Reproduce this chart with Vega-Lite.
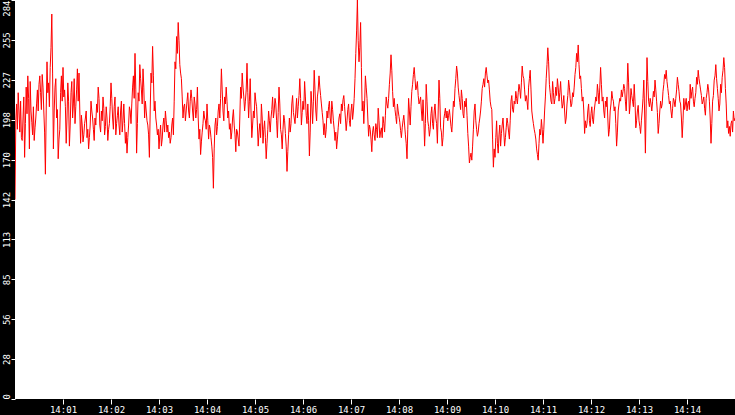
{
  "$schema": "https://vega.github.io/schema/vega-lite/v6.json",
  "width": 720,
  "height": 399,
  "autosize": {"type": "none"},
  "padding": {"left": 15, "top": 0, "right": 0, "bottom": 16},
  "background": "black",
  "view": {"fill": "white", "stroke": null},
  "data": {
    "format": {"parse": {"t": "date:'%H:%M:%S'"}},
    "values": [
      {"t":"14:00:00","v":142},{"t":"14:00:01","v":198},{"t":"14:00:02","v":210},{"t":"14:00:03","v":192},{"t":"14:00:04","v":218},{"t":"14:00:05","v":205},{"t":"14:00:06","v":190},{"t":"14:00:07","v":212},{"t":"14:00:08","v":186},{"t":"14:00:09","v":184},
      {"t":"14:00:10","v":200},{"t":"14:00:11","v":215},{"t":"14:00:12","v":172},{"t":"14:00:13","v":196},{"t":"14:00:14","v":222},{"t":"14:00:15","v":203},{"t":"14:00:16","v":230},{"t":"14:00:17","v":214},{"t":"14:00:18","v":178},{"t":"14:00:19","v":226},
      {"t":"14:00:20","v":205},{"t":"14:00:21","v":197},{"t":"14:00:22","v":188},{"t":"14:00:23","v":208},{"t":"14:00:24","v":184},{"t":"14:00:25","v":193},{"t":"14:00:26","v":200},{"t":"14:00:27","v":210},{"t":"14:00:28","v":220},{"t":"14:00:29","v":205},
      {"t":"14:00:30","v":224},{"t":"14:00:31","v":230},{"t":"14:00:32","v":218},{"t":"14:00:33","v":206},{"t":"14:00:34","v":231},{"t":"14:00:35","v":222},{"t":"14:00:36","v":205},{"t":"14:00:37","v":190},{"t":"14:00:38","v":160},{"t":"14:00:39","v":205},
      {"t":"14:00:40","v":240},{"t":"14:00:41","v":218},{"t":"14:00:42","v":225},{"t":"14:00:43","v":208},{"t":"14:00:44","v":236},{"t":"14:00:45","v":250},{"t":"14:00:46","v":274},{"t":"14:00:47","v":232},{"t":"14:00:48","v":178},{"t":"14:00:49","v":205},
      {"t":"14:00:50","v":222},{"t":"14:00:51","v":228},{"t":"14:00:52","v":200},{"t":"14:00:53","v":206},{"t":"14:00:54","v":171},{"t":"14:00:55","v":185},{"t":"14:00:56","v":192},{"t":"14:00:57","v":218},{"t":"14:00:58","v":230},{"t":"14:00:59","v":212},
      {"t":"14:01:00","v":236},{"t":"14:01:01","v":215},{"t":"14:01:02","v":220},{"t":"14:01:03","v":208},{"t":"14:01:04","v":182},{"t":"14:01:05","v":200},{"t":"14:01:06","v":225},{"t":"14:01:07","v":212},{"t":"14:01:08","v":180},{"t":"14:01:09","v":195},
      {"t":"14:01:10","v":218},{"t":"14:01:11","v":226},{"t":"14:01:12","v":200},{"t":"14:01:13","v":210},{"t":"14:01:14","v":228},{"t":"14:01:15","v":196},{"t":"14:01:16","v":208},{"t":"14:01:17","v":220},{"t":"14:01:18","v":235},{"t":"14:01:19","v":212},
      {"t":"14:01:20","v":232},{"t":"14:01:21","v":205},{"t":"14:01:22","v":182},{"t":"14:01:23","v":202},{"t":"14:01:24","v":195},{"t":"14:01:25","v":183},{"t":"14:01:26","v":188},{"t":"14:01:27","v":196},{"t":"14:01:28","v":200},{"t":"14:01:29","v":205},
      {"t":"14:01:30","v":186},{"t":"14:01:31","v":192},{"t":"14:01:32","v":178},{"t":"14:01:33","v":186},{"t":"14:01:34","v":195},{"t":"14:01:35","v":212},{"t":"14:01:36","v":205},{"t":"14:01:37","v":200},{"t":"14:01:38","v":192},{"t":"14:01:39","v":184},
      {"t":"14:01:40","v":200},{"t":"14:01:41","v":195},{"t":"14:01:42","v":210},{"t":"14:01:43","v":204},{"t":"14:01:44","v":222},{"t":"14:01:45","v":214},{"t":"14:01:46","v":195},{"t":"14:01:47","v":190},{"t":"14:01:48","v":205},{"t":"14:01:49","v":198},
      {"t":"14:01:50","v":215},{"t":"14:01:51","v":207},{"t":"14:01:52","v":188},{"t":"14:01:53","v":194},{"t":"14:01:54","v":208},{"t":"14:01:55","v":200},{"t":"14:01:56","v":184},{"t":"14:01:57","v":192},{"t":"14:01:58","v":196},{"t":"14:01:59","v":208},
      {"t":"14:02:00","v":225},{"t":"14:02:01","v":214},{"t":"14:02:02","v":200},{"t":"14:02:03","v":192},{"t":"14:02:04","v":208},{"t":"14:02:05","v":215},{"t":"14:02:06","v":188},{"t":"14:02:07","v":196},{"t":"14:02:08","v":202},{"t":"14:02:09","v":208},
      {"t":"14:02:10","v":195},{"t":"14:02:11","v":188},{"t":"14:02:12","v":205},{"t":"14:02:13","v":212},{"t":"14:02:14","v":190},{"t":"14:02:15","v":198},{"t":"14:02:16","v":210},{"t":"14:02:17","v":196},{"t":"14:02:18","v":182},{"t":"14:02:19","v":190},
      {"t":"14:02:20","v":175},{"t":"14:02:21","v":186},{"t":"14:02:22","v":195},{"t":"14:02:23","v":208},{"t":"14:02:24","v":205},{"t":"14:02:25","v":196},{"t":"14:02:26","v":210},{"t":"14:02:27","v":222},{"t":"14:02:28","v":230},{"t":"14:02:29","v":214},
      {"t":"14:02:30","v":246},{"t":"14:02:31","v":220},{"t":"14:02:32","v":175},{"t":"14:02:33","v":196},{"t":"14:02:34","v":218},{"t":"14:02:35","v":212},{"t":"14:02:36","v":238},{"t":"14:02:37","v":228},{"t":"14:02:38","v":220},{"t":"14:02:39","v":210},
      {"t":"14:02:40","v":235},{"t":"14:02:41","v":222},{"t":"14:02:42","v":200},{"t":"14:02:43","v":212},{"t":"14:02:44","v":205},{"t":"14:02:45","v":198},{"t":"14:02:46","v":195},{"t":"14:02:47","v":188},{"t":"14:02:48","v":172},{"t":"14:02:49","v":205},
      {"t":"14:02:50","v":232},{"t":"14:02:51","v":225},{"t":"14:02:52","v":251},{"t":"14:02:53","v":230},{"t":"14:02:54","v":205},{"t":"14:02:55","v":212},{"t":"14:02:56","v":200},{"t":"14:02:57","v":195},{"t":"14:02:58","v":188},{"t":"14:02:59","v":192},
      {"t":"14:03:00","v":178},{"t":"14:03:01","v":188},{"t":"14:03:02","v":195},{"t":"14:03:03","v":180},{"t":"14:03:04","v":185},{"t":"14:03:05","v":195},{"t":"14:03:06","v":200},{"t":"14:03:07","v":190},{"t":"14:03:08","v":205},{"t":"14:03:09","v":198},
      {"t":"14:03:10","v":190},{"t":"14:03:11","v":195},{"t":"14:03:12","v":186},{"t":"14:03:13","v":190},{"t":"14:03:14","v":182},{"t":"14:03:15","v":186},{"t":"14:03:16","v":195},{"t":"14:03:17","v":200},{"t":"14:03:18","v":188},{"t":"14:03:19","v":212},
      {"t":"14:03:20","v":240},{"t":"14:03:21","v":235},{"t":"14:03:22","v":258},{"t":"14:03:23","v":246},{"t":"14:03:24","v":268},{"t":"14:03:25","v":255},{"t":"14:03:26","v":238},{"t":"14:03:27","v":232},{"t":"14:03:28","v":228},{"t":"14:03:29","v":215},
      {"t":"14:03:30","v":200},{"t":"14:03:31","v":208},{"t":"14:03:32","v":210},{"t":"14:03:33","v":198},{"t":"14:03:34","v":205},{"t":"14:03:35","v":212},{"t":"14:03:36","v":218},{"t":"14:03:37","v":205},{"t":"14:03:38","v":200},{"t":"14:03:39","v":212},
      {"t":"14:03:40","v":220},{"t":"14:03:41","v":214},{"t":"14:03:42","v":205},{"t":"14:03:43","v":198},{"t":"14:03:44","v":215},{"t":"14:03:45","v":210},{"t":"14:03:46","v":200},{"t":"14:03:47","v":206},{"t":"14:03:48","v":222},{"t":"14:03:49","v":200},
      {"t":"14:03:50","v":185},{"t":"14:03:51","v":192},{"t":"14:03:52","v":174},{"t":"14:03:53","v":183},{"t":"14:03:54","v":190},{"t":"14:03:55","v":196},{"t":"14:03:56","v":205},{"t":"14:03:57","v":200},{"t":"14:03:58","v":198},{"t":"14:03:59","v":192},
      {"t":"14:04:00","v":210},{"t":"14:04:01","v":198},{"t":"14:04:02","v":185},{"t":"14:04:03","v":195},{"t":"14:04:04","v":192},{"t":"14:04:05","v":186},{"t":"14:04:06","v":180},{"t":"14:04:07","v":172},{"t":"14:04:08","v":150},{"t":"14:04:09","v":178},
      {"t":"14:04:10","v":195},{"t":"14:04:11","v":200},{"t":"14:04:12","v":188},{"t":"14:04:13","v":194},{"t":"14:04:14","v":205},{"t":"14:04:15","v":210},{"t":"14:04:16","v":200},{"t":"14:04:17","v":214},{"t":"14:04:18","v":235},{"t":"14:04:19","v":220},
      {"t":"14:04:20","v":205},{"t":"14:04:21","v":198},{"t":"14:04:22","v":215},{"t":"14:04:23","v":210},{"t":"14:04:24","v":222},{"t":"14:04:25","v":212},{"t":"14:04:26","v":200},{"t":"14:04:27","v":205},{"t":"14:04:28","v":192},{"t":"14:04:29","v":196},
      {"t":"14:04:30","v":185},{"t":"14:04:31","v":190},{"t":"14:04:32","v":200},{"t":"14:04:33","v":206},{"t":"14:04:34","v":195},{"t":"14:04:35","v":188},{"t":"14:04:36","v":176},{"t":"14:04:37","v":192},{"t":"14:04:38","v":190},{"t":"14:04:39","v":185},
      {"t":"14:04:40","v":180},{"t":"14:04:41","v":200},{"t":"14:04:42","v":222},{"t":"14:04:43","v":214},{"t":"14:04:44","v":232},{"t":"14:04:45","v":222},{"t":"14:04:46","v":215},{"t":"14:04:47","v":205},{"t":"14:04:48","v":212},{"t":"14:04:49","v":220},
      {"t":"14:04:50","v":239},{"t":"14:04:51","v":218},{"t":"14:04:52","v":200},{"t":"14:04:53","v":212},{"t":"14:04:54","v":228},{"t":"14:04:55","v":205},{"t":"14:04:56","v":186},{"t":"14:04:57","v":195},{"t":"14:04:58","v":205},{"t":"14:04:59","v":200},
      {"t":"14:05:00","v":218},{"t":"14:05:01","v":212},{"t":"14:05:02","v":208},{"t":"14:05:03","v":195},{"t":"14:05:04","v":180},{"t":"14:05:05","v":190},{"t":"14:05:06","v":196},{"t":"14:05:07","v":186},{"t":"14:05:08","v":210},{"t":"14:05:09","v":200},
      {"t":"14:05:10","v":182},{"t":"14:05:11","v":192},{"t":"14:05:12","v":198},{"t":"14:05:13","v":186},{"t":"14:05:14","v":171},{"t":"14:05:15","v":182},{"t":"14:05:16","v":192},{"t":"14:05:17","v":205},{"t":"14:05:18","v":198},{"t":"14:05:19","v":190},
      {"t":"14:05:20","v":200},{"t":"14:05:21","v":206},{"t":"14:05:22","v":215},{"t":"14:05:23","v":200},{"t":"14:05:24","v":205},{"t":"14:05:25","v":214},{"t":"14:05:26","v":210},{"t":"14:05:27","v":198},{"t":"14:05:28","v":186},{"t":"14:05:29","v":204},
      {"t":"14:05:30","v":222},{"t":"14:05:31","v":210},{"t":"14:05:32","v":192},{"t":"14:05:33","v":188},{"t":"14:05:34","v":178},{"t":"14:05:35","v":192},{"t":"14:05:36","v":202},{"t":"14:05:37","v":198},{"t":"14:05:38","v":189},{"t":"14:05:39","v":180},
      {"t":"14:05:40","v":162},{"t":"14:05:41","v":176},{"t":"14:05:42","v":188},{"t":"14:05:43","v":200},{"t":"14:05:44","v":190},{"t":"14:05:45","v":196},{"t":"14:05:46","v":210},{"t":"14:05:47","v":216},{"t":"14:05:48","v":204},{"t":"14:05:49","v":200},
      {"t":"14:05:50","v":196},{"t":"14:05:51","v":205},{"t":"14:05:52","v":214},{"t":"14:05:53","v":200},{"t":"14:05:54","v":208},{"t":"14:05:55","v":216},{"t":"14:05:56","v":228},{"t":"14:05:57","v":214},{"t":"14:05:58","v":195},{"t":"14:05:59","v":204},
      {"t":"14:06:00","v":212},{"t":"14:06:01","v":206},{"t":"14:06:02","v":226},{"t":"14:06:03","v":215},{"t":"14:06:04","v":202},{"t":"14:06:05","v":196},{"t":"14:06:06","v":210},{"t":"14:06:07","v":198},{"t":"14:06:08","v":173},{"t":"14:06:09","v":190},
      {"t":"14:06:10","v":219},{"t":"14:06:11","v":210},{"t":"14:06:12","v":196},{"t":"14:06:13","v":212},{"t":"14:06:14","v":234},{"t":"14:06:15","v":220},{"t":"14:06:16","v":205},{"t":"14:06:17","v":198},{"t":"14:06:18","v":215},{"t":"14:06:19","v":220},
      {"t":"14:06:20","v":230},{"t":"14:06:21","v":222},{"t":"14:06:22","v":216},{"t":"14:06:23","v":210},{"t":"14:06:24","v":204},{"t":"14:06:25","v":198},{"t":"14:06:26","v":188},{"t":"14:06:27","v":196},{"t":"14:06:28","v":186},{"t":"14:06:29","v":192},
      {"t":"14:06:30","v":205},{"t":"14:06:31","v":200},{"t":"14:06:32","v":208},{"t":"14:06:33","v":212},{"t":"14:06:34","v":200},{"t":"14:06:35","v":196},{"t":"14:06:36","v":212},{"t":"14:06:37","v":206},{"t":"14:06:38","v":198},{"t":"14:06:39","v":192},
      {"t":"14:06:40","v":184},{"t":"14:06:41","v":190},{"t":"14:06:42","v":178},{"t":"14:06:43","v":185},{"t":"14:06:44","v":193},{"t":"14:06:45","v":200},{"t":"14:06:46","v":203},{"t":"14:06:47","v":196},{"t":"14:06:48","v":210},{"t":"14:06:49","v":205},
      {"t":"14:06:50","v":213},{"t":"14:06:51","v":216},{"t":"14:06:52","v":208},{"t":"14:06:53","v":200},{"t":"14:06:54","v":191},{"t":"14:06:55","v":198},{"t":"14:06:56","v":206},{"t":"14:06:57","v":210},{"t":"14:06:58","v":198},{"t":"14:06:59","v":194},
      {"t":"14:07:00","v":205},{"t":"14:07:01","v":210},{"t":"14:07:02","v":199},{"t":"14:07:03","v":205},{"t":"14:07:04","v":214},{"t":"14:07:05","v":228},{"t":"14:07:06","v":246},{"t":"14:07:07","v":262},{"t":"14:07:08","v":284},{"t":"14:07:09","v":255},
      {"t":"14:07:10","v":240},{"t":"14:07:11","v":250},{"t":"14:07:12","v":268},{"t":"14:07:13","v":236},{"t":"14:07:14","v":205},{"t":"14:07:15","v":212},{"t":"14:07:16","v":196},{"t":"14:07:17","v":210},{"t":"14:07:18","v":230},{"t":"14:07:19","v":222},
      {"t":"14:07:20","v":214},{"t":"14:07:21","v":200},{"t":"14:07:22","v":187},{"t":"14:07:23","v":195},{"t":"14:07:24","v":192},{"t":"14:07:25","v":185},{"t":"14:07:26","v":176},{"t":"14:07:27","v":190},{"t":"14:07:28","v":194},{"t":"14:07:29","v":188},
      {"t":"14:07:30","v":184},{"t":"14:07:31","v":196},{"t":"14:07:32","v":192},{"t":"14:07:33","v":186},{"t":"14:07:34","v":207},{"t":"14:07:35","v":198},{"t":"14:07:36","v":186},{"t":"14:07:37","v":190},{"t":"14:07:38","v":193},{"t":"14:07:39","v":186},
      {"t":"14:07:40","v":201},{"t":"14:07:41","v":196},{"t":"14:07:42","v":190},{"t":"14:07:43","v":202},{"t":"14:07:44","v":215},{"t":"14:07:45","v":210},{"t":"14:07:46","v":207},{"t":"14:07:47","v":214},{"t":"14:07:48","v":224},{"t":"14:07:49","v":232},
      {"t":"14:07:50","v":245},{"t":"14:07:51","v":234},{"t":"14:07:52","v":219},{"t":"14:07:53","v":208},{"t":"14:07:54","v":214},{"t":"14:07:55","v":206},{"t":"14:07:56","v":201},{"t":"14:07:57","v":196},{"t":"14:07:58","v":210},{"t":"14:07:59","v":205},
      {"t":"14:08:00","v":201},{"t":"14:08:01","v":197},{"t":"14:08:02","v":191},{"t":"14:08:03","v":186},{"t":"14:08:04","v":193},{"t":"14:08:05","v":198},{"t":"14:08:06","v":202},{"t":"14:08:07","v":195},{"t":"14:08:08","v":188},{"t":"14:08:09","v":182},
      {"t":"14:08:10","v":171},{"t":"14:08:11","v":192},{"t":"14:08:12","v":214},{"t":"14:08:13","v":205},{"t":"14:08:14","v":195},{"t":"14:08:15","v":208},{"t":"14:08:16","v":219},{"t":"14:08:17","v":224},{"t":"14:08:18","v":231},{"t":"14:08:19","v":236},
      {"t":"14:08:20","v":228},{"t":"14:08:21","v":220},{"t":"14:08:22","v":222},{"t":"14:08:23","v":226},{"t":"14:08:24","v":216},{"t":"14:08:25","v":210},{"t":"14:08:26","v":212},{"t":"14:08:27","v":215},{"t":"14:08:28","v":205},{"t":"14:08:29","v":198},
      {"t":"14:08:30","v":213},{"t":"14:08:31","v":200},{"t":"14:08:32","v":180},{"t":"14:08:33","v":196},{"t":"14:08:34","v":224},{"t":"14:08:35","v":212},{"t":"14:08:36","v":198},{"t":"14:08:37","v":194},{"t":"14:08:38","v":187},{"t":"14:08:39","v":192},
      {"t":"14:08:40","v":203},{"t":"14:08:41","v":208},{"t":"14:08:42","v":196},{"t":"14:08:43","v":192},{"t":"14:08:44","v":205},{"t":"14:08:45","v":210},{"t":"14:08:46","v":200},{"t":"14:08:47","v":196},{"t":"14:08:48","v":182},{"t":"14:08:49","v":205},
      {"t":"14:08:50","v":227},{"t":"14:08:51","v":214},{"t":"14:08:52","v":193},{"t":"14:08:53","v":190},{"t":"14:08:54","v":180},{"t":"14:08:55","v":186},{"t":"14:08:56","v":199},{"t":"14:08:57","v":203},{"t":"14:08:58","v":207},{"t":"14:08:59","v":200},
      {"t":"14:09:00","v":205},{"t":"14:09:01","v":198},{"t":"14:09:02","v":202},{"t":"14:09:03","v":206},{"t":"14:09:04","v":200},{"t":"14:09:05","v":194},{"t":"14:09:06","v":190},{"t":"14:09:07","v":200},{"t":"14:09:08","v":212},{"t":"14:09:09","v":208},
      {"t":"14:09:10","v":221},{"t":"14:09:11","v":228},{"t":"14:09:12","v":237},{"t":"14:09:13","v":232},{"t":"14:09:14","v":222},{"t":"14:09:15","v":216},{"t":"14:09:16","v":211},{"t":"14:09:17","v":206},{"t":"14:09:18","v":220},{"t":"14:09:19","v":214},
      {"t":"14:09:20","v":203},{"t":"14:09:21","v":200},{"t":"14:09:22","v":212},{"t":"14:09:23","v":208},{"t":"14:09:24","v":214},{"t":"14:09:25","v":202},{"t":"14:09:26","v":189},{"t":"14:09:27","v":180},{"t":"14:09:28","v":168},{"t":"14:09:29","v":172},
      {"t":"14:09:30","v":175},{"t":"14:09:31","v":170},{"t":"14:09:32","v":180},{"t":"14:09:33","v":192},{"t":"14:09:34","v":205},{"t":"14:09:35","v":210},{"t":"14:09:36","v":198},{"t":"14:09:37","v":192},{"t":"14:09:38","v":187},{"t":"14:09:39","v":190},
      {"t":"14:09:40","v":196},{"t":"14:09:41","v":200},{"t":"14:09:42","v":205},{"t":"14:09:43","v":212},{"t":"14:09:44","v":221},{"t":"14:09:45","v":224},{"t":"14:09:46","v":228},{"t":"14:09:47","v":222},{"t":"14:09:48","v":232},{"t":"14:09:49","v":236},
      {"t":"14:09:50","v":230},{"t":"14:09:51","v":225},{"t":"14:09:52","v":227},{"t":"14:09:53","v":220},{"t":"14:09:54","v":212},{"t":"14:09:55","v":208},{"t":"14:09:56","v":206},{"t":"14:09:57","v":185},{"t":"14:09:58","v":165},{"t":"14:09:59","v":178},
      {"t":"14:10:00","v":172},{"t":"14:10:01","v":186},{"t":"14:10:02","v":198},{"t":"14:10:03","v":182},{"t":"14:10:04","v":175},{"t":"14:10:05","v":188},{"t":"14:10:06","v":195},{"t":"14:10:07","v":180},{"t":"14:10:08","v":189},{"t":"14:10:09","v":195},
      {"t":"14:10:10","v":200},{"t":"14:10:11","v":190},{"t":"14:10:12","v":180},{"t":"14:10:13","v":186},{"t":"14:10:14","v":193},{"t":"14:10:15","v":200},{"t":"14:10:16","v":196},{"t":"14:10:17","v":190},{"t":"14:10:18","v":185},{"t":"14:10:19","v":198},
      {"t":"14:10:20","v":212},{"t":"14:10:21","v":216},{"t":"14:10:22","v":206},{"t":"14:10:23","v":204},{"t":"14:10:24","v":212},{"t":"14:10:25","v":210},{"t":"14:10:26","v":219},{"t":"14:10:27","v":214},{"t":"14:10:28","v":210},{"t":"14:10:29","v":218},
      {"t":"14:10:30","v":224},{"t":"14:10:31","v":220},{"t":"14:10:32","v":214},{"t":"14:10:33","v":225},{"t":"14:10:34","v":237},{"t":"14:10:35","v":230},{"t":"14:10:36","v":228},{"t":"14:10:37","v":220},{"t":"14:10:38","v":212},{"t":"14:10:39","v":216},
      {"t":"14:10:40","v":212},{"t":"14:10:41","v":206},{"t":"14:10:42","v":222},{"t":"14:10:43","v":228},{"t":"14:10:44","v":234},{"t":"14:10:45","v":220},{"t":"14:10:46","v":205},{"t":"14:10:47","v":200},{"t":"14:10:48","v":196},{"t":"14:10:49","v":192},
      {"t":"14:10:50","v":189},{"t":"14:10:51","v":185},{"t":"14:10:52","v":178},{"t":"14:10:53","v":174},{"t":"14:10:54","v":170},{"t":"14:10:55","v":182},{"t":"14:10:56","v":192},{"t":"14:10:57","v":188},{"t":"14:10:58","v":199},{"t":"14:10:59","v":192},
      {"t":"14:11:00","v":182},{"t":"14:11:01","v":192},{"t":"14:11:02","v":205},{"t":"14:11:03","v":215},{"t":"14:11:04","v":228},{"t":"14:11:05","v":238},{"t":"14:11:06","v":250},{"t":"14:11:07","v":240},{"t":"14:11:08","v":224},{"t":"14:11:09","v":218},
      {"t":"14:11:10","v":212},{"t":"14:11:11","v":210},{"t":"14:11:12","v":226},{"t":"14:11:13","v":218},{"t":"14:11:14","v":210},{"t":"14:11:15","v":214},{"t":"14:11:16","v":222},{"t":"14:11:17","v":216},{"t":"14:11:18","v":228},{"t":"14:11:19","v":222},
      {"t":"14:11:20","v":212},{"t":"14:11:21","v":218},{"t":"14:11:22","v":226},{"t":"14:11:23","v":215},{"t":"14:11:24","v":207},{"t":"14:11:25","v":210},{"t":"14:11:26","v":216},{"t":"14:11:27","v":205},{"t":"14:11:28","v":196},{"t":"14:11:29","v":200},
      {"t":"14:11:30","v":210},{"t":"14:11:31","v":216},{"t":"14:11:32","v":227},{"t":"14:11:33","v":222},{"t":"14:11:34","v":214},{"t":"14:11:35","v":208},{"t":"14:11:36","v":210},{"t":"14:11:37","v":218},{"t":"14:11:38","v":215},{"t":"14:11:39","v":222},
      {"t":"14:11:40","v":231},{"t":"14:11:41","v":236},{"t":"14:11:42","v":246},{"t":"14:11:43","v":240},{"t":"14:11:44","v":252},{"t":"14:11:45","v":238},{"t":"14:11:46","v":228},{"t":"14:11:47","v":230},{"t":"14:11:48","v":221},{"t":"14:11:49","v":212},
      {"t":"14:11:50","v":215},{"t":"14:11:51","v":205},{"t":"14:11:52","v":189},{"t":"14:11:53","v":198},{"t":"14:11:54","v":193},{"t":"14:11:55","v":196},{"t":"14:11:56","v":205},{"t":"14:11:57","v":210},{"t":"14:11:58","v":198},{"t":"14:11:59","v":194},
      {"t":"14:12:00","v":203},{"t":"14:12:01","v":208},{"t":"14:12:02","v":199},{"t":"14:12:03","v":196},{"t":"14:12:04","v":205},{"t":"14:12:05","v":210},{"t":"14:12:06","v":215},{"t":"14:12:07","v":212},{"t":"14:12:08","v":224},{"t":"14:12:09","v":218},
      {"t":"14:12:10","v":210},{"t":"14:12:11","v":222},{"t":"14:12:12","v":236},{"t":"14:12:13","v":224},{"t":"14:12:14","v":212},{"t":"14:12:15","v":215},{"t":"14:12:16","v":205},{"t":"14:12:17","v":200},{"t":"14:12:18","v":212},{"t":"14:12:19","v":208},
      {"t":"14:12:20","v":215},{"t":"14:12:21","v":200},{"t":"14:12:22","v":187},{"t":"14:12:23","v":192},{"t":"14:12:24","v":205},{"t":"14:12:25","v":210},{"t":"14:12:26","v":219},{"t":"14:12:27","v":214},{"t":"14:12:28","v":212},{"t":"14:12:29","v":205},
      {"t":"14:12:30","v":208},{"t":"14:12:31","v":196},{"t":"14:12:32","v":180},{"t":"14:12:33","v":190},{"t":"14:12:34","v":205},{"t":"14:12:35","v":210},{"t":"14:12:36","v":214},{"t":"14:12:37","v":212},{"t":"14:12:38","v":220},{"t":"14:12:39","v":215},
      {"t":"14:12:40","v":219},{"t":"14:12:41","v":224},{"t":"14:12:42","v":221},{"t":"14:12:43","v":212},{"t":"14:12:44","v":205},{"t":"14:12:45","v":220},{"t":"14:12:46","v":239},{"t":"14:12:47","v":225},{"t":"14:12:48","v":203},{"t":"14:12:49","v":210},
      {"t":"14:12:50","v":221},{"t":"14:12:51","v":216},{"t":"14:12:52","v":212},{"t":"14:12:53","v":208},{"t":"14:12:54","v":224},{"t":"14:12:55","v":212},{"t":"14:12:56","v":193},{"t":"14:12:57","v":198},{"t":"14:12:58","v":205},{"t":"14:12:59","v":209},
      {"t":"14:13:00","v":198},{"t":"14:13:01","v":194},{"t":"14:13:02","v":189},{"t":"14:13:03","v":198},{"t":"14:13:04","v":205},{"t":"14:13:05","v":214},{"t":"14:13:06","v":227},{"t":"14:13:07","v":205},{"t":"14:13:08","v":175},{"t":"14:13:09","v":210},
      {"t":"14:13:10","v":243},{"t":"14:13:11","v":226},{"t":"14:13:12","v":212},{"t":"14:13:13","v":208},{"t":"14:13:14","v":214},{"t":"14:13:15","v":210},{"t":"14:13:16","v":205},{"t":"14:13:17","v":212},{"t":"14:13:18","v":219},{"t":"14:13:19","v":215},
      {"t":"14:13:20","v":227},{"t":"14:13:21","v":220},{"t":"14:13:22","v":212},{"t":"14:13:23","v":204},{"t":"14:13:24","v":189},{"t":"14:13:25","v":196},{"t":"14:13:26","v":205},{"t":"14:13:27","v":212},{"t":"14:13:28","v":207},{"t":"14:13:29","v":210},
      {"t":"14:13:30","v":219},{"t":"14:13:31","v":224},{"t":"14:13:32","v":231},{"t":"14:13:33","v":228},{"t":"14:13:34","v":234},{"t":"14:13:35","v":226},{"t":"14:13:36","v":221},{"t":"14:13:37","v":216},{"t":"14:13:38","v":210},{"t":"14:13:39","v":212},
      {"t":"14:13:40","v":205},{"t":"14:13:41","v":200},{"t":"14:13:42","v":207},{"t":"14:13:43","v":214},{"t":"14:13:44","v":212},{"t":"14:13:45","v":208},{"t":"14:13:46","v":214},{"t":"14:13:47","v":220},{"t":"14:13:48","v":229},{"t":"14:13:49","v":224},
      {"t":"14:13:50","v":219},{"t":"14:13:51","v":212},{"t":"14:13:52","v":210},{"t":"14:13:53","v":200},{"t":"14:13:54","v":186},{"t":"14:13:55","v":198},{"t":"14:13:56","v":214},{"t":"14:13:57","v":206},{"t":"14:13:58","v":210},{"t":"14:13:59","v":214},
      {"t":"14:14:00","v":205},{"t":"14:14:01","v":210},{"t":"14:14:02","v":212},{"t":"14:14:03","v":206},{"t":"14:14:04","v":224},{"t":"14:14:05","v":214},{"t":"14:14:06","v":219},{"t":"14:14:07","v":222},{"t":"14:14:08","v":212},{"t":"14:14:09","v":208},
      {"t":"14:14:10","v":214},{"t":"14:14:11","v":218},{"t":"14:14:12","v":229},{"t":"14:14:13","v":224},{"t":"14:14:14","v":234},{"t":"14:14:15","v":228},{"t":"14:14:16","v":224},{"t":"14:14:17","v":220},{"t":"14:14:18","v":216},{"t":"14:14:19","v":210},
      {"t":"14:14:20","v":212},{"t":"14:14:21","v":215},{"t":"14:14:22","v":207},{"t":"14:14:23","v":202},{"t":"14:14:24","v":214},{"t":"14:14:25","v":218},{"t":"14:14:26","v":224},{"t":"14:14:27","v":220},{"t":"14:14:28","v":212},{"t":"14:14:29","v":200},
      {"t":"14:14:30","v":182},{"t":"14:14:31","v":196},{"t":"14:14:32","v":212},{"t":"14:14:33","v":216},{"t":"14:14:34","v":227},{"t":"14:14:35","v":230},{"t":"14:14:36","v":238},{"t":"14:14:37","v":228},{"t":"14:14:38","v":221},{"t":"14:14:39","v":214},
      {"t":"14:14:40","v":205},{"t":"14:14:41","v":210},{"t":"14:14:42","v":224},{"t":"14:14:43","v":218},{"t":"14:14:44","v":229},{"t":"14:14:45","v":234},{"t":"14:14:46","v":243},{"t":"14:14:47","v":236},{"t":"14:14:48","v":221},{"t":"14:14:49","v":210},
      {"t":"14:14:50","v":193},{"t":"14:14:51","v":198},{"t":"14:14:52","v":189},{"t":"14:14:53","v":194},{"t":"14:14:54","v":187},{"t":"14:14:55","v":196},{"t":"14:14:56","v":198},{"t":"14:14:57","v":190},{"t":"14:14:58","v":205},{"t":"14:14:59","v":198},
      {"t":"14:15:00","v":200}
    ]
  },
  "mark": {"type": "line", "color": "#ff0000", "strokeWidth": 1, "clip": true},
  "encoding": {
    "x": {
      "field": "t",
      "type": "temporal",
      "scale": {
        "domain": [
          {"year": 1900, "month": 1, "date": 1, "hours": 14, "minutes": 0},
          {"year": 1900, "month": 1, "date": 1, "hours": 14, "minutes": 15}
        ]
      },
      "axis": {
        "title": null,
        "format": "%H:%M",
        "values": [
          {"year": 1900, "month": 1, "date": 1, "hours": 14, "minutes": 1},
          {"year": 1900, "month": 1, "date": 1, "hours": 14, "minutes": 2},
          {"year": 1900, "month": 1, "date": 1, "hours": 14, "minutes": 3},
          {"year": 1900, "month": 1, "date": 1, "hours": 14, "minutes": 4},
          {"year": 1900, "month": 1, "date": 1, "hours": 14, "minutes": 5},
          {"year": 1900, "month": 1, "date": 1, "hours": 14, "minutes": 6},
          {"year": 1900, "month": 1, "date": 1, "hours": 14, "minutes": 7},
          {"year": 1900, "month": 1, "date": 1, "hours": 14, "minutes": 8},
          {"year": 1900, "month": 1, "date": 1, "hours": 14, "minutes": 9},
          {"year": 1900, "month": 1, "date": 1, "hours": 14, "minutes": 10},
          {"year": 1900, "month": 1, "date": 1, "hours": 14, "minutes": 11},
          {"year": 1900, "month": 1, "date": 1, "hours": 14, "minutes": 12},
          {"year": 1900, "month": 1, "date": 1, "hours": 14, "minutes": 13},
          {"year": 1900, "month": 1, "date": 1, "hours": 14, "minutes": 14}
        ],
        "tickSize": 5,
        "labelPadding": 1,
        "labelFlush": false,
        "labelOverlap": false
      }
    },
    "y": {
      "field": "v",
      "type": "quantitative",
      "scale": {"domain": [0, 284], "nice": false},
      "axis": {
        "title": null,
        "values": [0, 28.4, 56.8, 85.2, 113.6, 142, 170.4, 198.8, 227.2, 255.6, 284],
        "labelExpr": "floor(datum.value)",
        "labelAngle": -90,
        "labelAlign": {
          "condition": [
            {"test": "datum.value >= 284", "value": "right"},
            {"test": "datum.value <= 0", "value": "left"}
          ],
          "value": "center"
        },
        "labelBaseline": "bottom",
        "labelFlush": false,
        "labelBound": false,
        "labelOverlap": false,
        "tickSize": 4,
        "labelPadding": 0
      }
    }
  },
  "config": {
    "axis": {
      "domain": false,
      "grid": false,
      "tickColor": "white",
      "tickWidth": 1,
      "labelColor": "white",
      "labelFont": "DejaVu Sans Mono",
      "labelFontSize": 9
    }
  }
}
